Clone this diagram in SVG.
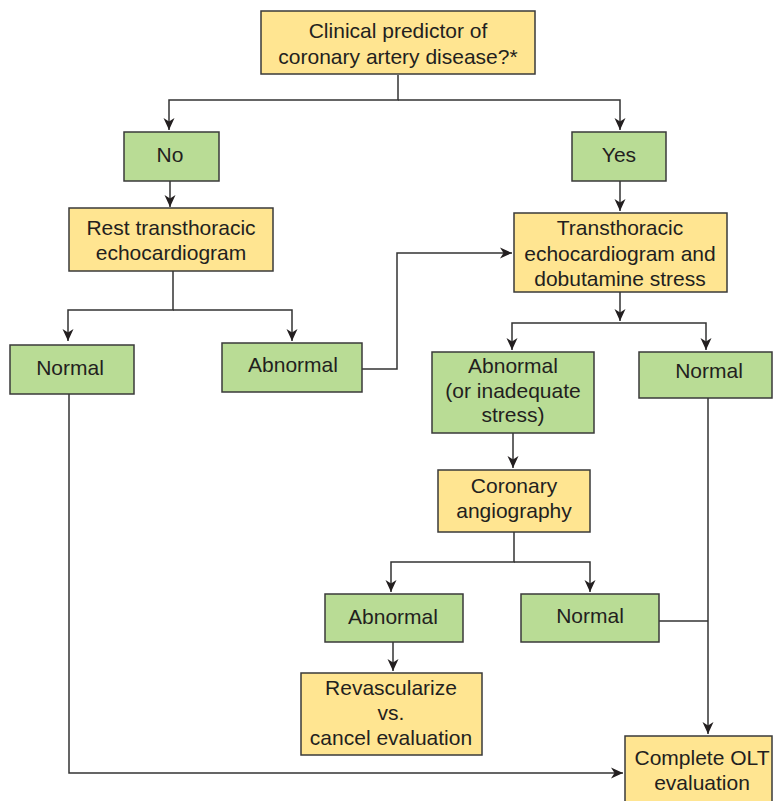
<svg xmlns="http://www.w3.org/2000/svg" width="773" height="801" viewBox="0 0 773 801">
<style>
.y{fill:#FFE591;stroke:#3a3a3a;stroke-width:1.5}
.g{fill:#B9DC95;stroke:#3a3a3a;stroke-width:1.5}
text{font-family:"Liberation Sans",Arial,sans-serif;font-size:21px;fill:#231f20;text-anchor:middle}
.c{fill:none;stroke:#333;stroke-width:1.5}
</style>
<defs>
<marker id="a" markerUnits="userSpaceOnUse" markerWidth="14" markerHeight="14" viewBox="0 0 14 14" refX="12" refY="7" orient="auto">
<path d="M0,1.5 L12,7 L0,12.5 L3.5,7 z" fill="#231f20"/>
</marker>
</defs>
<rect width="773" height="801" fill="#fff"/>
<g id="connectors" class="c">
<path d="M398,75 V100 H169 V130" marker-end="url(#a)"/>
<path d="M398,100 H620 V130" marker-end="url(#a)"/>
<path d="M170,181 V207" marker-end="url(#a)"/>
<path d="M620,181 V211" marker-end="url(#a)"/>
<path d="M173,271 V310 H68 V341" marker-end="url(#a)"/>
<path d="M173,310 H292 V341" marker-end="url(#a)"/>
<path d="M362,369 H397 V253 H512" marker-end="url(#a)"/>
<path d="M620,292 V321" marker-end="url(#a)"/>
<path d="M620,323 H512 V350" marker-end="url(#a)"/>
<path d="M620,323 H706 V350" marker-end="url(#a)"/>
<path d="M513,433 V468" marker-end="url(#a)"/>
<path d="M514,532 V562 H391 V592" marker-end="url(#a)"/>
<path d="M514,562 H590 V592" marker-end="url(#a)"/>
<path d="M393,642 V671" marker-end="url(#a)"/>
<path d="M659,621 H708"/>
<path d="M708,398 V734" marker-end="url(#a)"/>
<path d="M69,394 V773 H623" marker-end="url(#a)"/>
</g>
<g id="clinical">
<rect class="y" x="261" y="11" width="274" height="63"/>
<text x="398" y="38">Clinical predictor of</text>
<text x="398" y="64">coronary artery disease?*</text>
</g>
<g id="no">
<rect class="g" x="124" y="132" width="95" height="49"/>
<text x="170" y="162">No</text>
</g>
<g id="yes">
<rect class="g" x="572" y="132" width="94" height="49"/>
<text x="619" y="162">Yes</text>
</g>
<g id="rest">
<rect class="y" x="69" y="208" width="204" height="63"/>
<text x="171" y="235">Rest transthoracic</text>
<text x="171" y="260">echocardiogram</text>
</g>
<g id="transthoracic">
<rect class="y" x="514" y="213" width="213" height="79"/>
<text x="620" y="235">Transthoracic</text>
<text x="620" y="261">echocardiogram and</text>
<text x="620" y="286">dobutamine stress</text>
</g>
<g id="normal1">
<rect class="g" x="10" y="345" width="124" height="49"/>
<text x="70" y="375">Normal</text>
</g>
<g id="abnormal1">
<rect class="g" x="222" y="343" width="140" height="49"/>
<text x="293" y="372">Abnormal</text>
</g>
<g id="abnormal2">
<rect class="g" x="432" y="352" width="162" height="81"/>
<text x="513" y="373">Abnormal</text>
<text x="513" y="398">(or inadequate</text>
<text x="513" y="422">stress)</text>
</g>
<g id="normal2">
<rect class="g" x="639" y="352" width="133" height="46"/>
<text x="709" y="378">Normal</text>
</g>
<g id="coronary">
<rect class="y" x="438" y="470" width="152" height="62"/>
<text x="514" y="493">Coronary</text>
<text x="514" y="518">angiography</text>
</g>
<g id="abnormal3">
<rect class="g" x="325" y="594" width="138" height="48"/>
<text x="393" y="624">Abnormal</text>
</g>
<g id="normal3">
<rect class="g" x="521" y="594" width="138" height="48"/>
<text x="590" y="623">Normal</text>
</g>
<g id="revascularize">
<rect class="y" x="301" y="673" width="181" height="82"/>
<text x="391" y="695">Revascularize</text>
<text x="391" y="720">vs.</text>
<text x="391" y="745">cancel evaluation</text>
</g>
<g id="complete">
<rect class="y" x="625" y="736" width="147" height="66"/>
<text x="702" y="765">Complete OLT</text>
<text x="702" y="790">evaluation</text>
</g>
</svg>
